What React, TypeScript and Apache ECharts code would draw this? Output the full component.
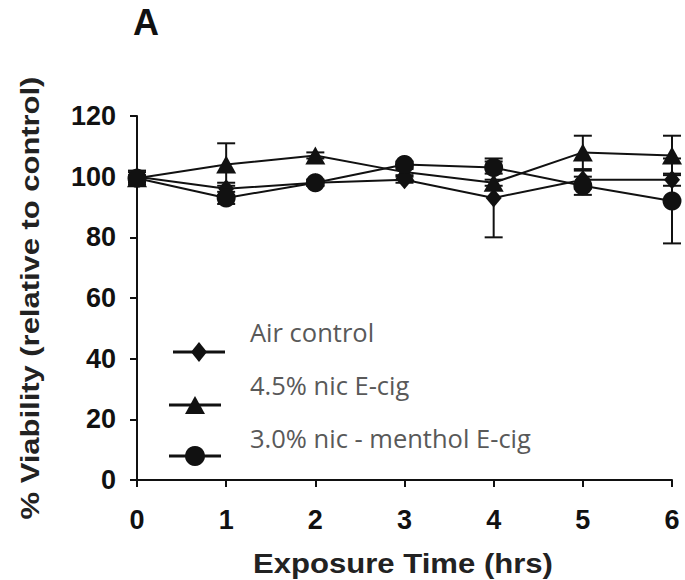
import React, { useEffect, useRef } from "react";
import * as echarts from "echarts";

const hours = [0, 1, 2, 3, 4, 5, 6];
const seriesNames = ["Air control", "4.5% nic E-cig", "3.0% nic - menthol E-cig"];
const airControl = [100, 96, 98, 99, 93, 99, 99];
const airControlErr = [2, 2, 1, 1, 13, 3, 2];
const nic45 = [99.5, 104, 107, 101.5, 98, 108, 107];
const nic45Err = [2, 7, 1, 1, 1, 5.5, 6.5];
const menthol30 = [99.5, 93, 98, 104, 103, 97, 92];
const menthol30Err = [1, 2, 1, 1, 2, 3, 14];

const INK = "#111";
const BOLD_FONT = "Liberation Sans";

function errSeries(vals: number[], errs: number[]) {
  return {
    type: "custom",
    silent: true,
    z: 1,
    renderItem: (params: any, api: any) => {
      const x = api.value(0);
      const lo = api.value(1);
      const hi = api.value(2);
      const pLo = api.coord([x, lo]);
      const pHi = api.coord([x, hi]);
      const hw = 9;
      const style = { stroke: INK, lineWidth: 2 };
      return {
        type: "group",
        children: [
          { type: "line", shape: { x1: pLo[0], y1: pLo[1], x2: pHi[0], y2: pHi[1] }, style },
          { type: "line", shape: { x1: pLo[0] - hw, y1: pLo[1], x2: pLo[0] + hw, y2: pLo[1] }, style },
          { type: "line", shape: { x1: pHi[0] - hw, y1: pHi[1], x2: pHi[0] + hw, y2: pHi[1] }, style },
        ],
      };
    },
    encode: { x: 0, y: [1, 2] },
    data: hours.map((h, i) => [h, vals[i] - errs[i], vals[i] + errs[i]]),
  };
}

function lineSeries(name: string, vals: number[], symbol: string, size: any) {
  return {
    type: "line",
    name,
    z: 3,
    symbol,
    symbolSize: size,
    showAllSymbol: true,
    itemStyle: { color: INK, borderWidth: 0 },
    lineStyle: { color: INK, width: 2 },
    data: hours.map((h, i) => [h, vals[i]]),
  };
}

export default function App() {
  const ref = useRef<HTMLDivElement>(null);
  useEffect(() => {
    if (!ref.current) return;
    const chart = echarts.init(ref.current, undefined, { renderer: "svg" });
    const legendText = { fontFamily: "Open Sans", fontSize: 25.5, fill: "#595959" };
    const lx1 = 195;
    chart.setOption({
      animation: false,
      backgroundColor: "#fff",
      grid: { left: 137, right: 13, top: 116, bottom: 100 },
      xAxis: {
        type: "value",
        min: 0,
        max: 6,
        interval: 1,
        splitLine: { show: false },
        axisLine: { lineStyle: { color: INK, width: 2 } },
        axisTick: { length: 7, lineStyle: { color: INK, width: 2 } },
        axisLabel: { color: INK, fontFamily: BOLD_FONT, fontWeight: "bold", fontSize: 27, margin: 26 },
      },
      yAxis: {
        type: "value",
        min: 0,
        max: 120,
        interval: 20,
        splitLine: { show: false },
        axisLine: { show: true, lineStyle: { color: INK, width: 2 } },
        axisTick: { show: true, length: 7, lineStyle: { color: INK, width: 2 } },
        axisLabel: { color: INK, fontFamily: BOLD_FONT, fontWeight: "bold", fontSize: 27, margin: 21 },
      },
      series: [
        errSeries(airControl, airControlErr),
        errSeries(nic45, nic45Err),
        errSeries(menthol30, menthol30Err),
        lineSeries(seriesNames[0], airControl, "diamond", [16, 19]),
        lineSeries(seriesNames[1], nic45, "triangle", [20, 18]),
        lineSeries(seriesNames[2], menthol30, "circle", 19),
      ],
      graphic: [
        {
          type: "text",
          x: 133,
          y: 22,
          style: { text: "A", fontFamily: BOLD_FONT, fontWeight: "bold", fontSize: 36, fill: INK, align: "left", verticalAlign: "middle" },
        },
        {
          type: "text",
          x: 30,
          y: 298,
          rotation: Math.PI / 2,
          scaleX: 1.19,
          style: {
            text: "% Viability (relative to control)",
            fontFamily: BOLD_FONT,
            fontWeight: "bold",
            fontSize: 26,
            fill: "#222",
            align: "center",
            verticalAlign: "middle",
          },
        },
        {
          type: "text",
          x: 403,
          y: 563,
          scaleX: 1.11,
          style: {
            text: "Exposure Time (hrs)",
            fontFamily: BOLD_FONT,
            fontWeight: "bold",
            fontSize: 28,
            fill: "#222",
            align: "center",
            verticalAlign: "middle",
          },
        },
        // legend
        { type: "line", shape: { x1: 173, y1: 352, x2: 225, y2: 352 }, style: { stroke: INK, lineWidth: 3 } },
        { type: "polygon", shape: { points: [[199, 342], [207, 352], [199, 362], [191, 352]] }, style: { fill: INK } },
        { type: "line", shape: { x1: 169, y1: 405, x2: 221, y2: 405 }, style: { stroke: INK, lineWidth: 3 } },
        { type: "polygon", shape: { points: [[lx1, 396], [lx1 + 10, 414], [lx1 - 10, 414]] }, style: { fill: INK } },
        { type: "line", shape: { x1: 169, y1: 456, x2: 221, y2: 456 }, style: { stroke: INK, lineWidth: 3 } },
        { type: "circle", shape: { cx: lx1, cy: 456, r: 10 }, style: { fill: INK } },
        { type: "text", x: 250, y: 332, style: { ...legendText, text: seriesNames[0], align: "left", verticalAlign: "middle" } },
        { type: "text", x: 250, y: 385, style: { ...legendText, text: seriesNames[1], align: "left", verticalAlign: "middle" } },
        { type: "text", x: 250, y: 438, style: { ...legendText, text: seriesNames[2], align: "left", verticalAlign: "middle" } },
      ],
    });
    return () => chart.dispose();
  }, []);
  return (
    <div
      ref={ref}
      style={{ position: "fixed", left: 0, top: 0, width: 685, height: 580, background: "#fff" }}
    />
  );
}
